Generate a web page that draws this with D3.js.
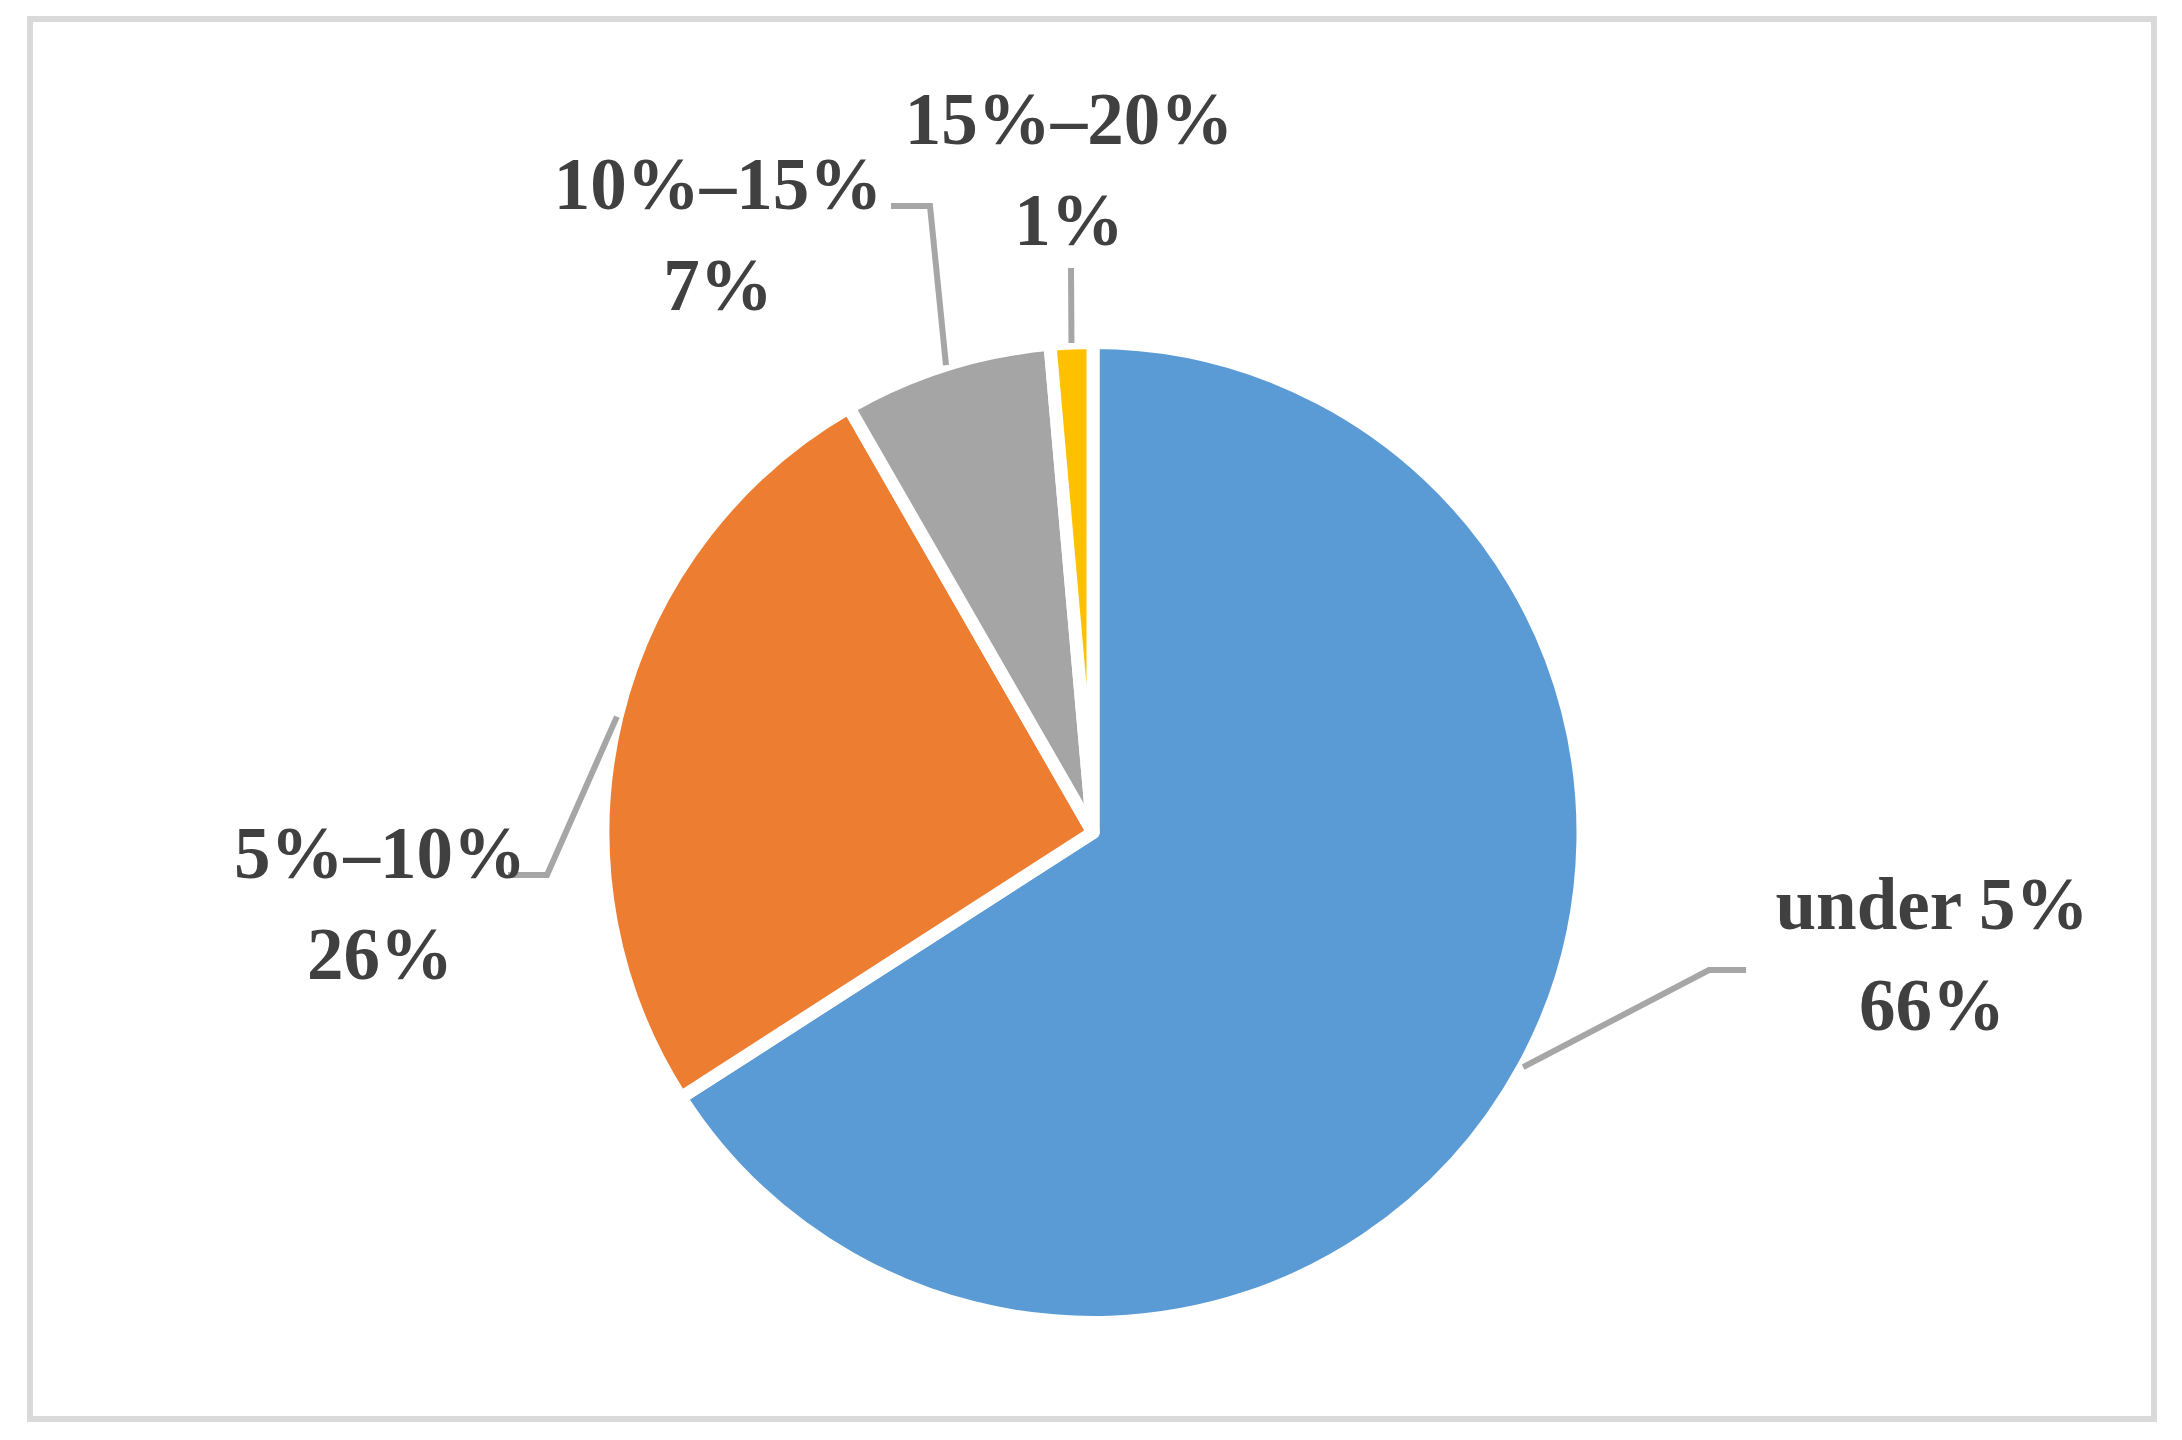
<!DOCTYPE html>
<html>
<head>
<meta charset="utf-8">
<script src="https://cdn.jsdelivr.net/npm/d3@7"></script>
<style>
    body { margin: 0; background: #fff; }
</style>
</head>
<body>
<div class="chart"></div>
<script>
var WIDTH = 2182;
var HEIGHT = 1440;
var C_X = 1093;
var C_Y = 832.5;
var RADIUS = 490;

// data
var categories = ["under 5%", "5%\u201310%", "10%\u201315%", "15%\u201320%"];
var values = [65.9, 25.8, 6.9, 1.4];
var colors = ["#5b9bd5", "#ed7d31", "#a5a5a5", "#ffc000"];

// label layout: text centre, first baseline, leader elbow + end
var labelX = [1932, 380, 718, 1069];
var labelY = [929, 878, 209, 144];
var elbows = [[1709, 970, 1746, 970], [547, 875, 508, 875], [930, 206, 891, 206], [1071, 268, 1071, 268]];
var LINE_GAP = 101;

var svg = d3.select(".chart")
    .append("svg")
    .attr("width", WIDTH)
    .attr("height", HEIGHT);

svg.append("rect")
    .attr("width", WIDTH)
    .attr("height", HEIGHT)
    .attr("fill", "#fff");

// outer frame
svg.append("rect")
    .attr("x", 30)
    .attr("y", 19)
    .attr("width", 2124)
    .attr("height", 1400)
    .attr("fill", "none")
    .attr("stroke", "#d9d9d9")
    .attr("stroke-width", 6);

var pie = d3.pie()
    .sort(null)
    .value(function(d) { return d; });

var arc = d3.arc()
    .innerRadius(0)
    .outerRadius(RADIUS);

var slices = pie(values);

var g = svg.append("g")
    .attr("transform", "translate(" + C_X + "," + C_Y + ")");

g.selectAll("path.slice")
    .data(slices)
    .enter().append("path")
    .attr("class", "slice")
    .attr("d", arc)
    .attr("fill", function(d, i) { return colors[i]; })
    .attr("stroke", "#fff")
    .attr("stroke-width", 13)
    .attr("stroke-linejoin", "round");

// leader lines start on the rim at the slice's middle angle
function rimPoint(d) {
    var a = (d.startAngle + d.endAngle) / 2;
    return [C_X + RADIUS * Math.sin(a), C_Y - RADIUS * Math.cos(a)];
}

svg.selectAll("polyline.leader")
    .data(slices)
    .enter().append("polyline")
    .attr("class", "leader")
    .attr("points", function(d, i) {
        var p = rimPoint(d);
        var e = elbows[i];
        return p[0] + "," + p[1] + " " + e[0] + "," + e[1] + " " + e[2] + "," + e[3];
    })
    .attr("fill", "none")
    .attr("stroke", "#a6a6a6")
    .attr("stroke-width", 6);

var labels = svg.selectAll("text.label")
    .data(slices)
    .enter().append("text")
    .attr("class", "label")
    .attr("text-anchor", "middle")
    .attr("font-family", "'Liberation Serif', 'DejaVu Serif', serif")
    .attr("font-weight", "bold")
    .attr("font-size", 73)
    .attr("fill", "#404040");

labels.append("tspan")
    .attr("x", function(d, i) { return labelX[i]; })
    .attr("y", function(d, i) { return labelY[i]; })
    .text(function(d, i) { return categories[i]; });

labels.append("tspan")
    .attr("x", function(d, i) { return labelX[i]; })
    .attr("y", function(d, i) { return labelY[i] + LINE_GAP; })
    .text(function(d) { return Math.round(d.value) + "%"; });
</script>
</body>
</html>
